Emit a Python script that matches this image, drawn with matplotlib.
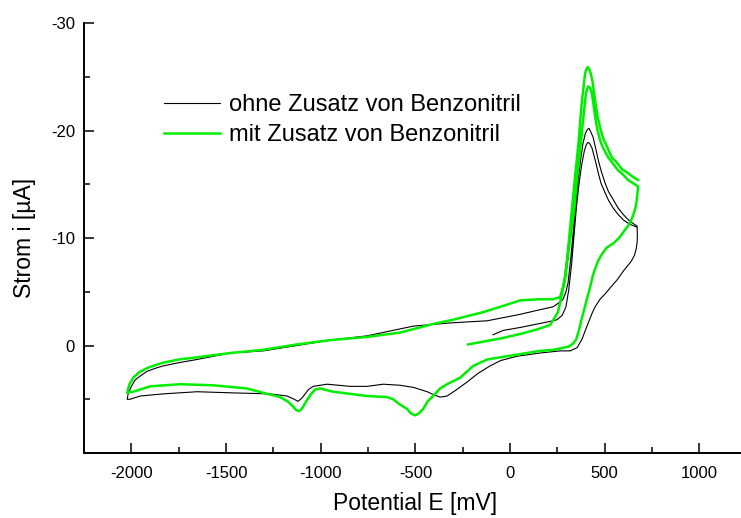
import numpy as np
import matplotlib
matplotlib.use("Agg")
import matplotlib.pyplot as plt
from matplotlib.ticker import MultipleLocator

plt.rcParams['font.family'] = ['Liberation Sans', 'DejaVu Sans']
plt.rcParams['axes.unicode_minus'] = False

# ---- ohne Zusatz (schwarz) ----
# Hinlauf 1: Start -> 680 mV
ohne_hin1_E = [-90, -37, 60, 143, 200, 248, 275, 295, 310, 325, 338, 350, 363, 378, 392, 403, 412, 420,
               432, 450, 465, 480, 502, 520, 544, 570, 597, 630, 671]
ohne_hin1_i = [-1.0, -1.4, -1.7, -2.0, -2.2, -2.4, -2.8, -3.6, -5.2, -7.6, -10.3, -12.8, -14.9, -16.8, -18.1, -18.7, -18.9, -18.8,
               -18.4, -17.2, -16.1, -15.1, -14.2, -13.5, -12.8, -12.2, -11.7, -11.3, -11.0]
# Ruecklauf: 680 -> -2020 mV
ohne_rueck_E = [672, 671, 666, 657, 645, 634, 615, 597, 565, 530, 512, 475, 449, 433, 406, 380, 354,
                317, 264, 158, 37, -50, -106, -170, -227, -290, -333, -370, -400, -438, -510,
                -581, -670, -755, -845, -966, -1040, -1065, -1082, -1100, -1120, -1140, -1177,
                -1267, -1478, -1653, -1832, -1954, -2006, -2022]
ohne_rueck_i = [-10.3, -9.6, -9.0, -8.4, -8.0, -7.7, -7.3, -6.9, -6.1, -5.4, -5.0, -4.3, -3.6, -3.0, -1.8, -0.6, 0.2,
                0.5, 0.5, 0.7, 1.0, 1.4, 1.9, 2.6, 3.4, 4.2, 4.7, 4.8, 4.6, 4.3, 3.9,
                3.7, 3.6, 3.8, 3.8, 3.6, 3.8, 4.1, 4.5, 4.9, 5.2, 5.0, 4.7,
                4.5, 4.4, 4.3, 4.5, 4.7, 5.0, 5.0]
# Hinlauf 2: -2020 -> 680 mV
ohne_hin2_E = [-2017, -2000, -1980, -1950, -1917, -1870, -1832, -1750, -1653, -1478, -1304,
               -1125, -950, -755, -512, -317, -121, 53, 150, 227, 260, 280, 295, 306, 320, 333,
               345, 358, 372, 385, 397, 408, 417, 428,
               438, 450, 465, 480, 502, 520, 544, 570, 597, 630, 671]
ohne_hin2_i = [4.5, 3.8, 3.2, 2.8, 2.4, 2.1, 1.9, 1.6, 1.3, 0.7, 0.5,
               0.0, -0.5, -0.9, -1.8, -2.1, -2.3, -2.9, -3.3, -3.6, -4.0, -4.3, -5.0, -5.8, -8.0, -10.5,
               -13.0, -15.2, -17.2, -18.8, -19.7, -20.1, -20.2, -19.8,
               -19.4, -18.5, -17.3, -16.3, -15.1, -14.3, -13.6, -12.8, -12.2, -11.6, -11.1]

# ---- mit Zusatz (gruen) ----
mit_hin1_E = [-222, -130, -37, 60, 143, 211, 253, 280, 300, 318, 339, 354, 373, 391, 401, 412,
              422, 431, 440, 449, 461, 475, 491, 518, 544, 570, 597, 623, 650, 676]
mit_hin1_i = [-0.1, -0.4, -0.7, -1.1, -1.5, -1.9, -3.1, -5.3, -7.6, -10.0, -12.6, -15.7, -18.8, -21.9, -23.5, -24.1,
              -24.0, -23.5, -22.5, -21.3, -20.1, -19.1, -18.4, -17.5, -16.9, -16.3, -15.9, -15.4, -15.1, -14.8]
mit_rueck_E = [672, 665, 650, 630, 600, 575, 545, 510, 485, 466, 450, 437, 425, 410, 395, 380, 365,
               350, 334, 310, 282, 230, 158, 53, -53, -121, -195, -264, -333, -370, -407, -435,
               -459, -480, -502, -525, -544, -581, -618, -649, -755, -845, -934, -1003, -1030,
               -1055, -1080, -1100, -1114, -1130, -1150, -1175, -1214, -1304, -1389, -1568, -1742,
               -1901, -1990, -2022]
mit_rueck_i = [-14.0, -13.0, -12.1, -11.3, -10.6, -10.0, -9.5, -9.1, -8.5, -7.9, -7.2, -6.5, -5.6, -4.6, -3.6, -2.6, -1.5,
               -0.6, -0.2, 0.1, 0.2, 0.4, 0.5, 0.8, 1.1, 1.3, 1.9, 3.0, 3.6, 4.0, 4.7, 5.2,
               5.9, 6.3, 6.5, 6.3, 5.9, 5.5, 5.0, 4.8, 4.7, 4.5, 4.3, 4.0, 4.1,
               4.6, 5.3, 5.9, 6.1, 6.0, 5.6, 5.2, 4.8, 4.4, 4.0, 3.7, 3.6,
               3.8, 4.3, 4.4]
mit_hin2_E = [-2010, -1990, -1960, -1917, -1870, -1832, -1750, -1653, -1478, -1304, -1125, -950,
              -755, -581, -407, -301, -143, -16, 53, 150, 227, 264, 290, 306, 326, 343, 361,
              378, 396, 403, 410, 418, 426, 433, 440, 449, 461, 475, 491, 512, 537, 565, 591, 618,
              648, 676]
mit_hin2_i = [3.6, 3.0, 2.5, 2.1, 1.8, 1.6, 1.3, 1.1, 0.7, 0.4, -0.1, -0.5,
              -0.8, -1.2, -2.0, -2.4, -3.1, -3.8, -4.2, -4.3, -4.3, -4.5, -6.1, -8.9, -12.6, -15.7, -18.8,
              -22.5, -25.3, -25.7, -25.9, -25.7, -25.3, -24.8, -23.9, -22.8, -21.4, -20.3, -19.3, -18.5, -17.5, -17.0, -16.4, -16.1,
              -15.7, -15.4]

ohne_E = np.concatenate([ohne_hin1_E, ohne_rueck_E, ohne_hin2_E])
ohne_i = np.concatenate([ohne_hin1_i, ohne_rueck_i, ohne_hin2_i])
mit_E = np.concatenate([mit_hin1_E, mit_rueck_E, mit_hin2_E])
mit_i = np.concatenate([mit_hin1_i, mit_rueck_i, mit_hin2_i])

fig = plt.figure(figsize=(7.41, 5.18), dpi=100)
ax = fig.add_axes([0.1134, 0.1255, 0.8944, 0.830])

ax.plot(ohne_E, ohne_i, color='black', lw=0.8, solid_joinstyle='round',
        label='ohne Zusatz von Benzonitril')
ax.plot(mit_E, mit_i, color='#00ee00', lw=1.8, solid_joinstyle='round',
        label='mit Zusatz von Benzonitril')

ax.set_xlim(-2250, 1250)
ax.set_ylim(10, -30)
ax.xaxis.set_minor_locator(MultipleLocator(250))
ax.yaxis.set_minor_locator(MultipleLocator(5))
ax.set_yticks([-30, -20, -10, 0])
ax.set_xticks([-2000, -1500, -1000, -500, 0, 500, 1000])

for s in ['top', 'right']:
    ax.spines[s].set_visible(False)
for s in ['left', 'bottom']:
    ax.spines[s].set_linewidth(1.4)
ax.tick_params(which='major', direction='in', length=7, width=1.1, labelsize=12)
ax.tick_params(which='minor', direction='in', length=4.5, width=1.1)
ax.tick_params(axis='x', pad=9.5)
ax.tick_params(axis='y', pad=6.5)

ax.set_xlabel('Potential E [mV]', fontsize=16.5, labelpad=8)
ax.set_ylabel('Strom i [µA]', fontsize=16.5, labelpad=11)

ax.legend(loc='upper left', bbox_to_anchor=(0.106, 0.857), frameon=False,
          fontsize=17, handlelength=2.4, handletextpad=0.35, labelspacing=0.36,
          borderaxespad=0)

fig.savefig('out.png', dpi=100)
